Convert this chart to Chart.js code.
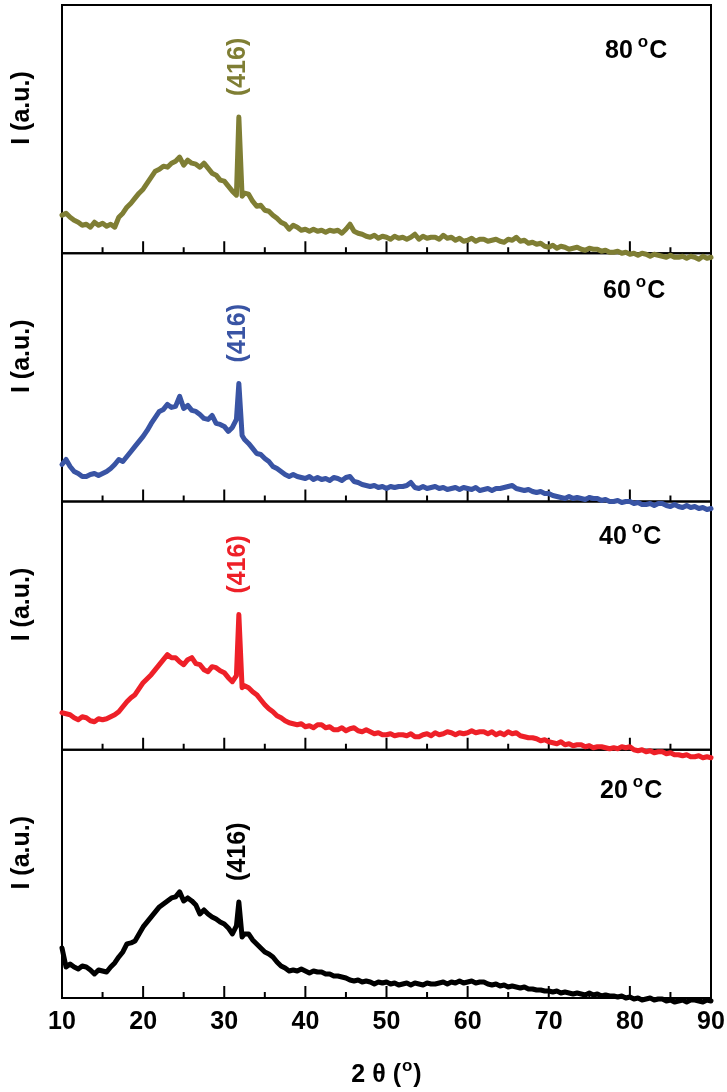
<!DOCTYPE html>
<html>
<head>
<meta charset="utf-8">
<script src="https://cdn.jsdelivr.net/npm/chart.js@4/dist/chart.umd.min.js"></script>
<style>
html,body{margin:0;padding:0;background:#ffffff;}
canvas{display:block;}
</style>
</head>
<body>
<canvas id="c" width="727" height="1092"></canvas>
<script>
// ---- data (2θ in degrees, intensity in arbitrary units) ----
const twoTheta = [
10,10.5,11,11.5,12,12.5,13,13.5,14,14.5,
15,15.5,16,16.5,17,17.5,18,18.5,19,19.5,
20,20.5,21,21.5,22,22.5,23,23.5,24,24.5,
25,25.5,26,26.5,27,27.5,28,28.5,29,29.5,
30,30.5,31,31.5,
31.8,32.2,
32.5,
33,33.5,34,34.5,35,35.5,36,36.5,37,37.5,
38,38.5,39,39.5,40,40.5,41,41.5,42,42.5,
43,43.5,44,44.5,45,45.5,46,46.5,47,47.5,
48,48.5,49,49.5,50,50.5,51,51.5,52,52.5,
53,53.5,54,54.5,55,55.5,56,56.5,57,57.5,
58,58.5,59,59.5,60,60.5,61,61.5,62,62.5,
63,63.5,64,64.5,65,65.5,66,66.5,67,67.5,
68,68.5,69,69.5,70,70.5,71,71.5,72,72.5,
73,73.5,74,74.5,75,75.5,76,76.5,77,77.5,
78,78.5,79,79.5,80,80.5,81,81.5,82,82.5,
83,83.5,84,84.5,85,85.5,86,86.5,87,87.5,
88,88.5,89,89.5,90
];

const i80 = [
38,40,36,33,31,28,29,26,31,28,
30,27,29,26,36,40,46,50,55,60,
64,70,76,82,84,87,86,90,92,96,
88,93,90,89,86,90,85,80,78,73,
72,67,62,58,
136,57,
60,
59,52,47,48,43,42,38,35,31,29,
24,28,26,23,24,22,24,22,23,21,
23,22,23,20,24,29,22,20,19,17,
16,18,15,17,16,14,17,15,16,14,
16,19,14,17,15,16,16,14,18,15,
16,13,15,12,13,15,12,14,14,12,
13,14,12,11,14,13,16,12,13,10,
11,9,10,7,6,8,5,7,6,4,
5,6,4,3,5,4,4,2,3,1,
1,2,0,1,-1,0,-2,0,-1,-3,
-1,-2,-3,-4,-2,-4,-4,-3,-5,-3,
-4,-6,-3,-5,-4
];

const i60 = [
37,42,35,30,28,25,25,27,28,26,
28,30,33,37,42,40,45,50,55,60,
65,71,78,84,90,92,97,94,95,105,
93,96,91,90,87,83,82,86,78,77,
75,70,74,82,
118,66,
62,
58,53,48,47,43,40,35,33,30,27,
25,27,25,24,23,25,22,24,22,23,
21,24,23,21,24,25,20,19,17,16,
15,16,14,15,13,15,14,15,15,16,
19,14,13,15,13,14,15,13,14,12,
13,14,12,14,13,12,14,11,12,13,
11,13,13,14,15,16,13,12,11,12,
10,9,10,8,8,6,5,4,3,5,
3,4,3,2,4,3,3,1,2,0,
0,1,-1,0,0,-2,-1,-3,-3,-2,
-4,-2,-2,-4,-5,-3,-5,-6,-4,-6,
-5,-7,-6,-8,-7
];

const i40 = [
37,36,35,32,30,33,32,29,28,31,
30,31,33,35,38,43,48,52,55,61,
67,71,75,80,85,90,95,92,92,88,
85,90,92,86,85,80,78,83,82,79,
77,72,68,74,
135,62,
64,
62,58,55,50,45,41,38,34,32,29,
27,26,25,26,23,24,22,25,25,22,
23,20,20,22,19,21,22,19,18,20,
18,16,17,15,15,16,14,15,15,14,
16,13,13,15,16,14,17,15,16,18,
17,15,17,16,17,19,17,18,18,16,
18,15,17,15,18,16,17,14,13,12,
12,11,9,10,8,7,6,8,5,6,
4,5,5,3,4,2,3,3,2,1,
2,1,3,2,3,0,-1,0,-2,-1,
-3,-2,-2,-4,-3,-5,-5,-6,-5,-7,
-7,-6,-8,-7,-8
];

const i20 = [
50,31,34,31,29,32,31,28,24,28,
27,26,31,35,41,46,54,55,57,64,
71,76,81,86,91,94,97,100,101,106,
97,100,97,93,84,88,84,81,79,76,
74,70,64,72,
96,61,
64,
64,58,54,50,46,44,41,36,32,30,
27,28,27,29,27,25,27,26,26,24,
24,22,22,21,20,18,17,18,16,17,
16,14,16,15,16,14,15,13,14,15,
13,15,14,13,15,14,14,15,16,14,
16,15,17,15,16,17,15,16,16,14,
13,14,12,13,11,12,11,10,11,9,
9,8,8,7,7,6,7,5,6,5,
4,5,4,3,5,3,4,2,3,2,
2,1,2,0,1,-1,0,-2,-1,0,
-2,-1,-1,-3,-2,-4,-3,-2,-4,-2,
-2,-3,-4,-2,-3
];

const temperatures = [80, 60, 40, 20];          // °C, top to bottom
const peakLabel = '(416)';
const peakPosition = 31.8;                      // 2θ of the (416) reflection
const xTickValues = [10, 20, 30, 40, 50, 60, 70, 80, 90];
const yLabel = 'I (a.u.)';

// ---- styling ----
const seriesColors = ['#7f7e34', '#3954a4', '#ee2028', '#000000'];
const FONT = '"Liberation Sans", Arial, Helvetica, sans-serif';
const BIG = 'bold 25px ' + FONT;
const SMALL = 'bold 17px ' + FONT;
const axisIds = ['y80', 'y60', 'y40', 'y20'];
const tempLabelPos = [{dx: -106, dy: 53}, {dx: -108, dy: 45}, {dx: -112, dy: 42}, {dx: -111, dy: 48}];

const seriesList = [i80, i60, i40, i20];

const datasets = seriesList.map((s, k) => ({
  label: temperatures[k] + ' °C',
  data: twoTheta.map((x, i) => ({x: x, y: s[i]})),
  yAxisID: axisIds[k],
  borderColor: seriesColors[k],
  backgroundColor: seriesColors[k],
  borderWidth: 5,
  pointRadius: 0,
  tension: 0,
  fill: false,
  clip: false,
  borderJoinStyle: 'round',
  borderCapStyle: 'round'
}));

function panelScale() {
  return {
    type: 'linear',
    position: 'left',
    stack: 'panels',
    stackWeight: 1,
    min: 0,
    max: 248,
    grid: {display: false, drawTicks: false},
    border: {display: false},
    ticks: {display: false},
    title: {display: false},
    afterFit: s => { s.width = 0; s.paddingTop = 0; s.paddingBottom = 0; }
  };
}

const scales = {
  x: {
    type: 'linear',
    position: 'bottom',
    min: 10,
    max: 90,
    grid: {display: false, drawTicks: false},
    border: {display: false},
    ticks: {
      color: '#000',
      font: {family: FONT, weight: 'bold', size: 25},
      padding: 9,
      maxRotation: 0,
      autoSkip: false
    },
    afterBuildTicks: s => { s.ticks = xTickValues.map(v => ({value: v})); },
    afterFit: s => { s.height = 94; s.paddingLeft = 0; s.paddingRight = 0; }
  }
};
// stacked left scales are laid out last-defined on top, so define bottom panel first
axisIds.slice().reverse().forEach(id => { scales[id] = panelScale(); });

function drawSup(ctx, parts, x, baseline, align) {
  let total = 0;
  const widths = parts.map(p => {
    ctx.font = p.sup ? SMALL : BIG;
    const w = ctx.measureText(p.t).width + (p.gap || 0);
    total += w;
    return w;
  });
  let cx = align === 'center' ? x - total / 2 : x;
  ctx.textAlign = 'left';
  ctx.textBaseline = 'alphabetic';
  parts.forEach((p, i) => {
    ctx.font = p.sup ? SMALL : BIG;
    ctx.fillText(p.t, cx + (p.pre || 0), p.sup ? baseline - 11 : baseline);
    cx += widths[i];
  });
}

const framePlugin = {
  id: 'frames',
  beforeDatasetsDraw(chart) {
    const ctx = chart.ctx;
    const xs = chart.scales.x;
    ctx.save();
    ctx.strokeStyle = '#000';
    ctx.lineWidth = 2;
    axisIds.forEach(id => {
      const ys = chart.scales[id];
      ctx.strokeRect(xs.left, ys.top, xs.right - xs.left, ys.bottom - ys.top);
      for (let k = 0; k < xTickValues.length; k++) {
        const v = xTickValues[k];
        const px = xs.getPixelForValue(v);
        if (k > 0 && k < xTickValues.length - 1) {
          ctx.beginPath(); ctx.moveTo(px, ys.bottom); ctx.lineTo(px, ys.bottom - 12); ctx.stroke();
        }
        if (k < xTickValues.length - 1) {
          const mv = (v + xTickValues[k + 1]) / 2;
          const pm = xs.getPixelForValue(mv);
          ctx.beginPath(); ctx.moveTo(pm, ys.bottom); ctx.lineTo(pm, ys.bottom - 6); ctx.stroke();
        }
      }
    });
    ctx.restore();
  },
  afterDatasetsDraw(chart) {
    const ctx = chart.ctx;
    const xs = chart.scales.x;
    ctx.save();
    axisIds.forEach((id, k) => {
      const ys = chart.scales[id];
      // y-axis title
      ctx.save();
      ctx.fillStyle = '#000';
      ctx.font = BIG;
      ctx.translate(22, ys.top + 103);
      ctx.rotate(-Math.PI / 2);
      ctx.textAlign = 'center';
      ctx.textBaseline = 'middle';
      ctx.fillText(yLabel, 0, 0);
      ctx.restore();
      // temperature label
      ctx.fillStyle = '#000';
      const p = tempLabelPos[k];
      drawSup(ctx, [{t: String(temperatures[k]) }, {t: 'o', sup: true, pre: 5, gap: 6}, {t: 'C'}],
        xs.right + p.dx, ys.top + p.dy, 'left');
      // (416) peak label above the peak
      const s = seriesList[k];
      let peak = -Infinity;
      twoTheta.forEach((x, i) => { if (Math.abs(x - peakPosition) < 0.3) peak = Math.max(peak, s[i]); });
      const px = xs.getPixelForValue(peakPosition);
      const py = ys.getPixelForValue(peak) - 21;
      ctx.save();
      ctx.fillStyle = seriesColors[k];
      ctx.font = BIG;
      ctx.translate(px - 1, py);
      ctx.rotate(-Math.PI / 2);
      ctx.textAlign = 'left';
      ctx.textBaseline = 'middle';
      ctx.fillText(peakLabel, 0, 0);
      ctx.restore();
    });
    // x-axis title: 2 θ (°)
    ctx.fillStyle = '#000';
    drawSup(ctx, [{t: '2 θ ('}, {t: 'o', sup: true, pre: 1, gap: 2}, {t: ')'}],
      (xs.left + xs.right) / 2, 1082, 'center');
    ctx.restore();
  }
};

new Chart(document.getElementById('c'), {
  type: 'line',
  data: {datasets: datasets},
  options: {
    responsive: false,
    animation: false,
    devicePixelRatio: 1,
    layout: {padding: {left: 62, right: 16, top: 5, bottom: 0}},
    plugins: {legend: {display: false}, tooltip: {enabled: false}},
    scales: scales
  },
  plugins: [framePlugin]
});
</script>
</body>
</html>
